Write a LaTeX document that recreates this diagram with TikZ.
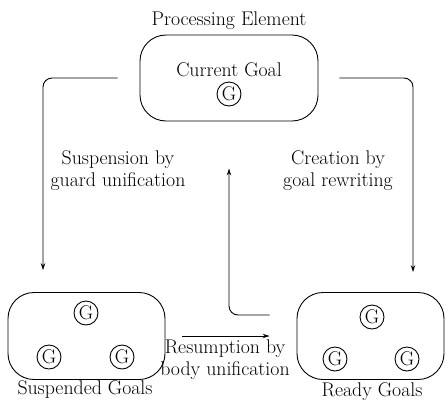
\documentclass[tikz,border=0pt]{standalone}
\usetikzlibrary{arrows.meta}
\begin{document}
\begin{tikzpicture}[x=1pt,y=-1pt,
  every node/.style={font=\fontsize{19.8}{22}\selectfont},
  pool/.style={draw, line width=0.9pt, rounded corners=26pt, inner sep=0pt},
  goal/.style={draw, circle, line width=0.9pt, minimum size=24pt, inner sep=0pt},
  lbl/.style={align=center, inner sep=0pt},
  flow/.style={draw, line width=0.9pt, rounded corners=9pt, -{Stealth[length=7pt,width=4.5pt]}}]
\useasboundingbox (0,0) rectangle (446,402);
% boxes
\node[pool, minimum width=178pt, minimum height=86pt] (top) at (229,78) {};
\node[pool, minimum width=157pt, minimum height=87pt] (susp) at (86.5,336) {};
\node[pool, minimum width=147pt, minimum height=87pt] (ready) at (370.5,336) {};
% titles
\node[lbl] (pe) at (229,21) {Processing Element};
\node[lbl] (cg) at (229,70) {Current Goal};
\node[lbl] (sg) at (85,389) {Suspended Goals};
\node[lbl] (rg) at (372,392) {Ready Goals};
% goals
\node[goal] (g0) at (229,94) {G};
\node[goal] (g1) at (86,313) {G};
\node[goal] (g2) at (49,357) {G};
\node[goal] (g3) at (122,357) {G};
\node[goal] (g4) at (372,317) {G};
\node[goal] (g5) at (335,359) {G};
\node[goal] (g6) at (407,359) {G};
% helper x positions
\coordinate (lx) at (43,0);
\coordinate (rx) at (413,0);
% connectors
\draw[flow, shorten >=22pt] ([xshift=-22pt]top.west) -| (lx |- susp.north);
\draw[flow, shorten >=20pt] ([xshift=21pt]top.east) -| (rx |- ready.north);
\draw[flow, rounded corners=0pt, shorten <=17pt, shorten >=27pt] (susp.east) -- (ready.west);
\draw[flow, shorten >=47pt] ([shift={(-27pt,21pt)}]ready.west) -| (top.south);
% labels
\node[lbl] (l1) at (118,171) {Suspension by\\guard unification};
\node[lbl] (l2) at (338,171) {Creation by\\goal rewriting};
\node[lbl] (l3) at (225,360) {Resumption by\\body unification};
\end{tikzpicture}
\end{document}
